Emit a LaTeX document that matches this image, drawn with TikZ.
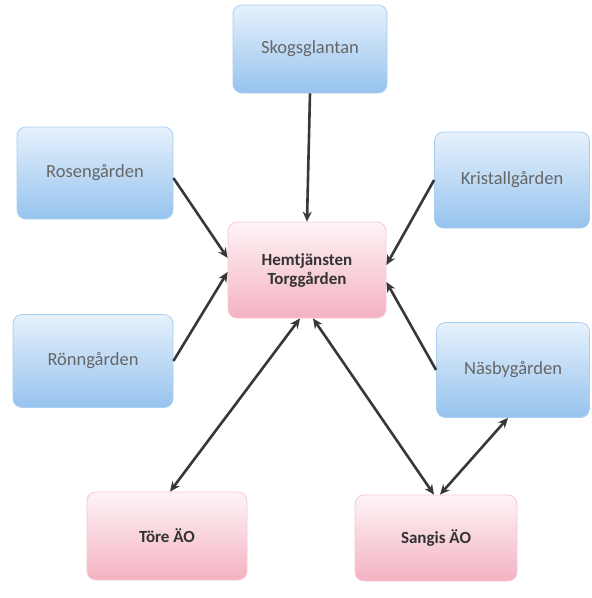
\documentclass[tikz,border=0pt]{standalone}
\usepackage{fontspec}
\setmainfont{Carlito}
\usetikzlibrary{arrows.meta}
\definecolor{boxblue}{HTML}{96C3EE}
\definecolor{boxbluetop}{HTML}{E6F1FC}
\definecolor{boxpink}{HTML}{F3B2C2}
\definecolor{boxpinktop}{HTML}{FEF4F6}
\definecolor{linkgray}{HTML}{383838}
\begin{document}
\begin{tikzpicture}[x=1pt,y=-1pt,
	enhet/.style={rectangle,rounded corners=9pt,draw=boxblue!80,line width=0.8pt,
		top color=boxbluetop,bottom color=boxblue,text=black!60,
		font=\fontsize{18.5}{20}\selectfont,align=center},
	centrum/.style={enhet,draw=boxpink!70,top color=boxpinktop,bottom color=boxpink,
		text=black!80,font=\fontsize{17}{19}\selectfont\bfseries},
	pil/.style={line width=2.6pt,color=linkgray,-{Stealth[length=10pt,width=9pt]}},
	dubbelpil/.style={pil,{Stealth[length=10pt,width=9pt]}-{Stealth[length=10pt,width=9pt]}}]
		\useasboundingbox (0,0) rectangle (592,598);
		% Noder
		\node[enhet,minimum width=154pt,minimum height=88pt] (skog) at (310,49) {Skogsglantan};
		\node[enhet,minimum width=156pt,minimum height=92pt] (rosen) at (95,173) {Rosengården};
		\node[enhet,minimum width=155pt,minimum height=96pt] (krist) at (512,180) {Kristallgården};
		\node[centrum,minimum width=158pt,minimum height=96pt] (hem) at (307,270) {Hemtjänsten\\Torggården};
		\node[enhet,minimum width=160pt,minimum height=93pt] (ronn) at (93,361) {Rönngården};
		\node[enhet,minimum width=153pt,minimum height=95pt] (nasby) at (513,370) {Näsbygården};
		\node[centrum,minimum width=160pt,minimum height=88pt] (tore) at (167,536) {Töre ÄO};
		\node[centrum,minimum width=162pt,minimum height=86pt] (sangis) at (436,538) {Sangis ÄO};
		% Pilar in mot hemtjänsten
		\draw[pil] (skog.south) -- (hem.north);
		\draw[pil] ([yshift=-5pt]rosen.east) -- ([yshift=12pt]hem.west);
		\draw[pil] (ronn.east) -- ([yshift=-2pt]hem.west);
		\draw[pil] (krist.west) -- ([yshift=5pt]hem.east);
		\draw[pil] (nasby.west) -- ([yshift=-12pt]hem.east);
		% Dubbelpilar
		\draw[dubbelpil] ([xshift=-7pt]hem.south) -- ([xshift=3pt]tore.north);
		\draw[dubbelpil] ([xshift=6pt]hem.south) -- ([xshift=-2pt]sangis.north);
		\draw[dubbelpil] ([xshift=-5pt]nasby.south) -- ([xshift=4pt]sangis.north);
\end{tikzpicture}
\end{document}
